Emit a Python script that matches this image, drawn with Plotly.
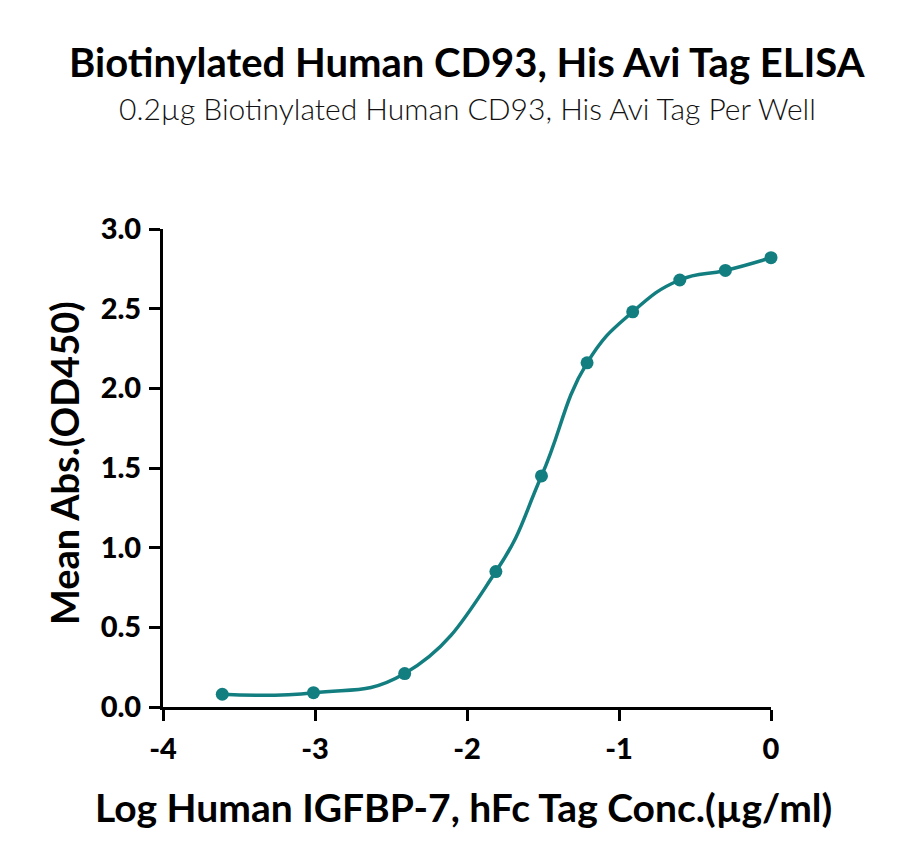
import plotly.graph_objects as go

log_conc = [-3.61, -3.01, -2.41, -1.81, -1.51, -1.21, -0.91, -0.60, -0.30, 0.0]
mean_abs = [0.08, 0.09, 0.21, 0.85, 1.45, 2.16, 2.48, 2.68, 2.74, 2.82]
x_ticks = [-4, -3, -2, -1, 0]
y_ticks = [0.0, 0.5, 1.0, 1.5, 2.0, 2.5, 3.0]
y_tick_text = ["0.0", "0.5", "1.0", "1.5", "2.0", "2.5", "3.0"]

teal = "#137e80"
bold_font = "Lato"

fig = go.Figure()
fig.add_trace(go.Scatter(
    x=log_conc, y=mean_abs, mode="lines",
    line=dict(color=teal, width=3.5, shape="spline", smoothing=1.3),
    hoverinfo="skip", showlegend=False, cliponaxis=False))
fig.add_trace(go.Scatter(
    x=log_conc, y=mean_abs, mode="markers",
    marker=dict(color=teal, size=13),
    showlegend=False, cliponaxis=False))

axis_common = dict(
    showgrid=False, zeroline=False, showline=True, linecolor="black", linewidth=3,
    ticks="outside", ticklen=11, tickwidth=3, tickcolor="black",
    tickfont=dict(family=bold_font, size=29, color="black", weight=900),
)
fig.update_xaxes(range=[-4, 0], tickvals=x_ticks, ticktext=[str(v) for v in x_ticks],
                 ticklabelstandoff=3, **axis_common)
fig.update_yaxes(range=[0, 3], tickvals=y_ticks, ticktext=y_tick_text,
                 ticklabelstandoff=2, **axis_common)

fig.update_layout(
    width=900, height=865,
    margin=dict(l=155, r=137, t=221, b=166),
    plot_bgcolor="white", paper_bgcolor="white",
    annotations=[
        dict(text="Biotinylated Human CD93, His Avi Tag ELISA", xref="paper", yref="paper",
             x=0.5, y=1.349, xanchor="center", yanchor="middle", showarrow=False,
             font=dict(family=bold_font, size=40, color="black", weight="bold")),
        dict(text="0.2µg Biotinylated Human CD93, His Avi Tag Per Well", xref="paper", yref="paper",
             x=0.5, y=1.253, xanchor="center", yanchor="middle", showarrow=False,
             font=dict(family=bold_font, size=30, color="#111111", weight=300)),
        dict(text="Log Human IGFBP-7, hFc Tag Conc.(µg/ml)", xref="paper", yref="paper",
             x=0.495, y=-0.209, xanchor="center", yanchor="middle", showarrow=False,
             font=dict(family=bold_font, size=39, color="black", weight="bold")),
        dict(text="Mean Abs.(OD450)", xref="paper", yref="paper", textangle=-90,
             x=-0.163, y=0.51, xanchor="center", yanchor="middle", showarrow=False,
             font=dict(family=bold_font, size=38, color="black", weight="bold")),
    ],
)

fig.write_html("out.html")
